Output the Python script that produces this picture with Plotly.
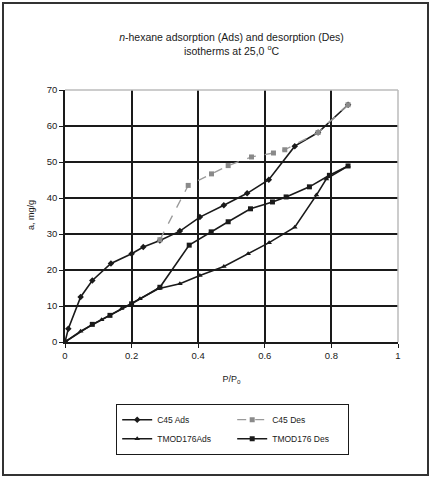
import plotly.graph_objects as go

# ---- data ----
c45_ads_x = [0, 0.01, 0.047, 0.082, 0.138, 0.2, 0.235, 0.285, 0.345, 0.405, 0.477, 0.547, 0.612, 0.69, 0.76, 0.85]
c45_ads_y = [0, 3.7, 12.5, 17.1, 21.8, 24.5, 26.4, 28.2, 30.8, 34.7, 38.0, 41.3, 45.1, 54.4, 58.2, 65.9]

c45_des_x = [0.85, 0.76, 0.66, 0.626, 0.56, 0.49, 0.44, 0.37, 0.285]
c45_des_y = [65.9, 58.2, 53.4, 52.5, 51.4, 49.0, 46.7, 43.5, 28.4]

tmod_ads_x = [0, 0.047, 0.11, 0.17, 0.225, 0.28, 0.345, 0.405, 0.477, 0.55, 0.613, 0.69, 0.755, 0.785, 0.85]
tmod_ads_y = [0, 3.0, 6.2, 9.3, 12.0, 14.8, 16.2, 18.5, 21.0, 24.5, 27.6, 31.9, 40.8, 45.3, 48.9]

tmod_des_x = [0.85, 0.794, 0.734, 0.664, 0.623, 0.557, 0.49, 0.439, 0.373, 0.285, 0.2, 0.135, 0.082, 0]
tmod_des_y = [48.9, 46.3, 43.1, 40.3, 38.9, 37.0, 33.4, 30.6, 26.9, 15.2, 10.6, 7.4, 4.9, 0]

x_ticks = [0, 0.2, 0.4, 0.6, 0.8, 1]
x_tick_labels = ["0", "0.2", "0.4", "0.6", "0.8", "1"]
y_ticks = [0, 10, 20, 30, 40, 50, 60, 70]

FONT = "Liberation Sans, Arial, sans-serif"
INK = "#1a1a1a"

fig = go.Figure()
fig.add_trace(go.Scatter(x=c45_ads_x, y=c45_ads_y, name="C45 Ads", mode="lines+markers",
                         line=dict(color=INK, width=1.6),
                         marker=dict(symbol="diamond", size=5, color=INK)))
fig.add_trace(go.Scatter(x=c45_des_x, y=c45_des_y, name="C45 Des", mode="lines+markers",
                         line=dict(color="#9a9a9a", width=1.3, dash="dash"),
                         marker=dict(symbol="square", size=5, color="#8a8a8a")))
fig.add_trace(go.Scatter(x=tmod_ads_x, y=tmod_ads_y, name="TMOD176Ads", mode="lines+markers",
                         line=dict(color=INK, width=1.6),
                         marker=dict(symbol="triangle-up", size=5, color=INK)))
fig.add_trace(go.Scatter(x=tmod_des_x, y=tmod_des_y, name="TMOD176 Des", mode="lines+markers",
                         line=dict(color=INK, width=1.6),
                         marker=dict(symbol="square", size=5, color=INK)))

W, H = 433, 479
L, R, T, B = 65, 35, 90, 137
pw, ph = W - L - R, H - T - B

def px(xp):
    return (xp - L) / pw

def py(yp):
    return (H - B - yp) / ph

fig.update_layout(
    width=W, height=H,
    margin=dict(l=L, r=R, t=T, b=B),
    paper_bgcolor="white", plot_bgcolor="white",
    font=dict(family=FONT, size=9, color=INK),
    title=dict(text="<i>n</i>-hexane adsorption (Ads) and desorption (Des)<br>isotherms at 25,0 <sup>o</sup>C",
               x=0.5, xref="paper", xanchor="center",
               y=1 - 41 / H, yref="container", yanchor="middle",
               font=dict(family=FONT, size=10.5, color=INK)),
    xaxis=dict(range=[0, 1], tickvals=x_ticks, ticktext=x_tick_labels,
               showgrid=True, gridcolor=INK, gridwidth=1.5,
               showline=True, linecolor=INK, linewidth=1.5,
               ticks="outside", ticklen=4, tickcolor=INK, zeroline=False,
               tickfont=dict(size=9.5),
               title=dict(text="P/P<sub>o</sub>", font=dict(size=9), standoff=16)),
    yaxis=dict(range=[0, 70], tickvals=y_ticks,
               showgrid=True, gridcolor=INK, gridwidth=1.5,
               showline=True, linecolor=INK, linewidth=1.5,
               ticks="outside", ticklen=4, tickcolor=INK, zeroline=False,
               tickfont=dict(size=9.5)),
    showlegend=True,
    legend=dict(orientation="h", x=0.503, xanchor="center", y=py(404), yanchor="top",
                entrywidth=70, entrywidthmode="pixels", itemwidth=30,
                bordercolor=INK, borderwidth=1.2, bgcolor="white",
                font=dict(family=FONT, size=8.5, color=INK), tracegroupgap=0),
    annotations=[dict(text="a, mg/g", textangle=-90, x=px(31), y=py(215),
                      xref="paper", yref="paper", xanchor="center", yanchor="middle",
                      showarrow=False, font=dict(family=FONT, size=9, color=INK))],
    shapes=[
        dict(type="rect", xref="paper", yref="paper", x0=px(3), x1=px(428), y0=py(475), y1=py(3),
             line=dict(color="#333", width=2), layer="below"),
        dict(type="line", xref="paper", yref="paper", x0=0, x1=1, y0=1, y1=1,
             line=dict(color="#bbbbbb", width=1.5)),
        dict(type="line", xref="paper", yref="paper", x0=1, x1=1, y0=0, y1=1,
             line=dict(color="#bbbbbb", width=1.5)),
    ],
)

fig.write_html("out.html", config={"displayModeBar": False},
               post_script="document.body.style.margin='0';document.body.style.padding='0';")
